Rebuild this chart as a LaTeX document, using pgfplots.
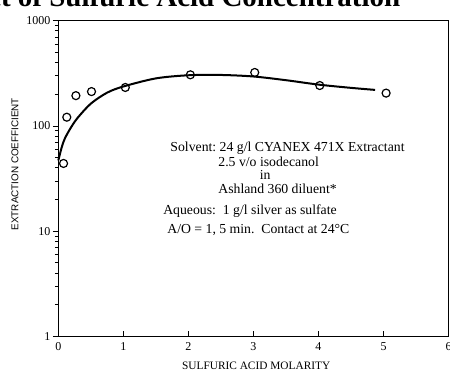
\documentclass[border=0pt]{standalone}
\usepackage{pgfplots}
\pgfplotsset{compat=1.18}
\usepackage{fontspec}
\setmainfont{Liberation Serif}
\newfontfamily\sansf{Liberation Sans}
\begin{document}
\begin{tikzpicture}
\begin{axis}[
  name=ax,
  scale only axis,
  width=292.3pt, height=236.5pt,
  ymode=log,
  xmin=0, xmax=6, ymin=1, ymax=1000,
  xtick={0,1,2,3,4,5,6},
  ytick={1,10,100,1000},
  yticklabels={1,10,100,1000},
  xtick pos=bottom, ytick pos=left,
  xtick align=inside, ytick align=outside,
  major tick length=4pt, minor tick length=2.5pt,
  ticklabel style={font=\fontsize{9}{10}\selectfont},
  yticklabel style={xshift=1.5pt},
  xticklabel style={yshift=-1pt},
  /pgf/number format/assume math mode=true,
  axis line style={line width=0.7pt},
  tick style={line width=0.6pt, black},
  clip=false,
]
\addplot[black, line width=1.5pt, smooth, tension=0.5] coordinates {
 (0,47) (0.05,62) (0.1,76) (0.2,98) (0.3,120) (0.5,163) (0.75,207) (1.0,237)
 (1.5,283) (2.0,303) (2.5,305) (3.0,295) (3.5,272) (4.0,247) (4.5,230) (4.87,220)
};
\addplot[only marks, mark=o, mark size=3pt, mark options={line width=0.9pt, fill=white}, black] coordinates {
 (0.08,44) (0.13,121) (0.27,194) (0.51,212) (1.03,232) (2.03,306) (3.02,322) (4.02,242) (5.04,205)
};
\begin{scope}[every node/.style={font=\fontsize{10.3}{12}\selectfont, inner sep=0pt}]
\node[anchor=base west] at (axis cs:1.72,57.6) {Solvent:\ 24 g/l CYANEX 471X Extractant};
\node[anchor=base west] at (axis cs:2.457,41.4) {2.5 v/o isodecanol};
\node[anchor=base] at (axis cs:3.18,31.2) {in};
\node[anchor=base west] at (axis cs:2.457,22.9) {Ashland 360 diluent*};
\node[anchor=base west] at (axis cs:1.61,14.5) {Aqueous:\ \ 1 g/l silver as sulfate};
\node[anchor=base west] at (axis cs:1.672,9.55) {A/O = 1, 5 min.\ \ Contact at 24°C};
\end{scope}
\node[anchor=base, inner sep=0pt, font=\fontsize{8.5}{10}\selectfont] at (rel axis cs:0.507,-0.106) {SULFURIC ACID MOLARITY};
\node[rotate=90, inner sep=0pt, font=\sansf\fontsize{7.4}{9}\selectfont] at (rel axis cs:-0.111,0.5455) {EXTRACTION COEFFICIENT};
\end{axis}
\node[anchor=base east, inner sep=0pt, font=\bfseries\fontsize{21.7}{25}\selectfont] at ([shift={(256.3pt,10.5pt)}]ax.north west) {Effect of Sulfuric Acid Concentration};
\pgfresetboundingbox
\useasboundingbox ([shift={(-43.7pt,-24.75pt)}]ax.south west) rectangle ([shift={(1.1pt,15.5pt)}]ax.north east);
\end{tikzpicture}
\end{document}
